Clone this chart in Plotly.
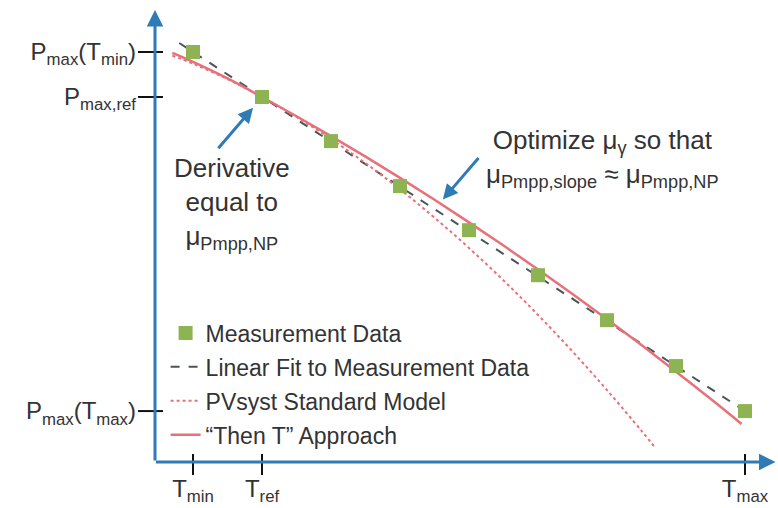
import plotly.graph_objects as go

# Module temperature (°C) of each measurement, from T_min to T_max
temp_meas = [15, 25, 35, 45, 55, 65, 75, 85, 95]
# Measured maximum power, normalised so that Pmax,ref = 100
pmax_meas = [105.0, 100.0, 95.1, 90.1, 85.2, 80.2, 75.2, 70.1, 65.1]
T_REF = 25

# Straight-line regression through the measurements
temp_fit = [13, 95]
pmax_fit = [106.0, 65.1]

# PVsyst standard model
temp_pvsyst = [12, 15, 20, 25, 30, 35, 40, 45, 50, 55, 60, 65, 70, 75, 80, 82]
pmax_pvsyst = [104.6, 103.7, 101.99, 100.0, 97.78, 95.33, 92.65, 89.74,
               86.59, 83.22, 79.62, 75.78, 71.72, 67.42, 62.90, 61.02]

# "Then T" approach
temp_thent = [12, 15, 20, 25, 30, 35, 40, 45, 50, 55, 60, 65, 70, 75, 80, 85, 90, 94.5]
pmax_thent = [104.9, 103.9, 102.06, 100.0, 97.86, 95.65, 93.37, 91.01, 88.58,
              86.07, 83.49, 80.84, 78.11, 75.31, 72.43, 69.48, 66.46, 63.67]

# Axis tick positions and their labels
x_tickvals = [temp_meas[0], T_REF, temp_meas[-1]]
x_ticktext = ["T<sub>min</sub>", "T<sub>ref</sub>", "T<sub>max</sub>"]
y_tickvals = [pmax_meas[0], pmax_meas[temp_meas.index(T_REF)], pmax_meas[-1]]
y_ticktext = ["P<sub>max</sub>(T<sub>min</sub>)", "P<sub>max,ref</sub>",
              "P<sub>max</sub>(T<sub>max</sub>)"]

FONT = "Liberation Sans, Arial, sans-serif"
TEXT = "#333333"
BLUE = "#2F7BB6"
RED = "#E8707A"
GREEN = "#8DB352"

fig = go.Figure()

fig.add_trace(go.Scatter(
    x=temp_fit, y=pmax_fit, mode="lines", name="Linear Fit to Measurement Data",
    line=dict(color="#4A5656", width=2, dash="dash"), legendrank=2, legendgroup="fit"))
fig.add_trace(go.Scatter(
    x=temp_pvsyst, y=pmax_pvsyst, mode="lines", name="PVsyst Standard Model",
    line=dict(color=RED, width=2, dash="dot", shape="spline"), legendrank=3,
    legendgroup="pvsyst"))
fig.add_trace(go.Scatter(
    x=temp_thent, y=pmax_thent, mode="lines", name="\u201cThen T\u201d Approach",
    line=dict(color=RED, width=2.5, shape="spline"), legendrank=4, legendgroup="thent"))
fig.add_trace(go.Scatter(
    x=temp_meas, y=pmax_meas, mode="markers", name="Measurement Data",
    marker=dict(symbol="square", size=14, color=GREEN), legendrank=1,
    legendgroup="meas"))

# Short tick marks crossing each axis
shapes = []
for v in y_tickvals:
    shapes.append(dict(type="line", xref="paper", yref="y", xsizemode="pixel",
                       xanchor=0, x0=-17, x1=8, y0=v, y1=v,
                       line=dict(color="#111111", width=2)))
for v in x_tickvals:
    shapes.append(dict(type="line", xref="x", yref="paper", ysizemode="pixel",
                       yanchor=0, y0=-13, y1=8, x0=v, x1=v,
                       line=dict(color="#111111", width=2)))

annotations = [
    # axis arrows
    dict(xref="paper", yref="paper", x=0, y=1.0, ax=0, ay=452, showarrow=True,
         arrowhead=2, arrowsize=1.1, arrowwidth=3, arrowcolor=BLUE, text=""),
    dict(xref="paper", yref="paper", x=0.996, y=0, ax=-621, ay=0, showarrow=True,
         arrowhead=2, arrowsize=1.1, arrowwidth=3, arrowcolor=BLUE, text=""),
    # callout arrows
    dict(x=23.7, y=98.8, ax=-36, ay=42, showarrow=True, arrowhead=2,
         arrowsize=1, arrowwidth=3, arrowcolor=BLUE, text=""),
    dict(x=51.2, y=88.6, ax=37, ay=-43, showarrow=True, arrowhead=2,
         arrowsize=1, arrowwidth=3, arrowcolor=BLUE, text=""),
    # callout text
    dict(x=20.6, y=94.0, xanchor="center", yanchor="top", showarrow=False,
         align="center", font=dict(size=26, color=TEXT, family=FONT),
         text="Derivative<br>equal to<br>\u03bc<sub>Pmpp,NP</sub>"),
    dict(x=74.4, y=97.1, xanchor="center", yanchor="top", showarrow=False,
         align="center", font=dict(size=26, color=TEXT, family=FONT),
         text="Optimize \u03bc<sub>\u03b3</sub> so that<br>"
              "\u03bc<sub>Pmpp,slope</sub> \u2248 \u03bc<sub>Pmpp,NP</sub>"),
]

fig.update_layout(
    width=778, height=508,
    margin=dict(l=155, r=0, t=10, b=46),
    paper_bgcolor="white", plot_bgcolor="white",
    font=dict(family=FONT, color=TEXT),
    showlegend=True,
    legend=dict(x=0.017, y=0.333, xanchor="left", yanchor="top",
                bgcolor="rgba(0,0,0,0)", font=dict(size=23, color=TEXT, family=FONT),
                itemwidth=30, traceorder="grouped", tracegroupgap=1),
    shapes=shapes,
    annotations=annotations,
)
fig.update_xaxes(range=[9.49, 99.78], showgrid=False, zeroline=False, showline=False,
                 ticks="", tickvals=x_tickvals, ticktext=x_ticktext,
                 tickfont=dict(size=24, color=TEXT, family=FONT), ticklabelstandoff=10)
fig.update_yaxes(range=[59.44, 109.67], showgrid=False, zeroline=False, showline=False,
                 ticks="", tickvals=y_tickvals, ticktext=y_ticktext,
                 tickfont=dict(size=24, color=TEXT, family=FONT), ticklabelstandoff=18)

fig.write_html("out.html")
